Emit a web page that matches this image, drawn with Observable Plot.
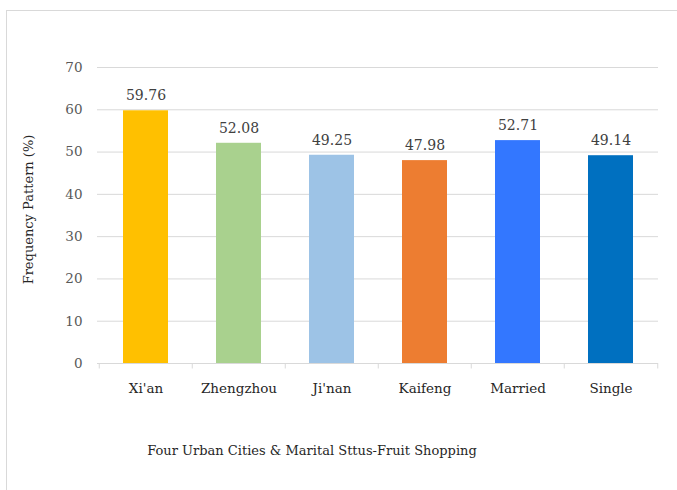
<!DOCTYPE html>
<html>
<head>
<meta charset="utf-8">
<script src="https://cdn.jsdelivr.net/npm/d3@7"></script>
<script src="https://cdn.jsdelivr.net/npm/@observablehq/plot@0.6"></script>
<style>
  html, body { margin: 0; padding: 0; background: #fff; }
  #wrap { position: relative; width: 677px; height: 490px; overflow: hidden; }
  #frame { position: absolute; left: 6px; top: 10px; width: 680px; height: 500px; border: 1px solid #d9d9d9; box-sizing: border-box; }
  #chart { position: absolute; left: 0; top: 0; }
  #caption { position: absolute; left: 0; width: 624px; top: 443px; text-align: center; font-family: 'DejaVu Serif', 'Liberation Serif', serif; font-size: 13px; color: #262626; }
</style>
</head>
<body>
<div id="wrap">
  <div id="frame"></div>
  <div id="chart"></div>
  <div id="caption">Four Urban Cities &amp; Marital Sttus-Fruit Shopping</div>
</div>
<script>
const categories = ["Xi'an", "Zhengzhou", "Ji'nan", "Kaifeng", "Married", "Single"];
const values = [59.76, 52.08, 49.25, 47.98, 52.71, 49.14];
const colors = ["#FFC000", "#A9D18E", "#9DC3E6", "#ED7D31", "#3377FF", "#0070C0"];
const yTicks = [0, 10, 20, 30, 40, 50, 60, 70];
const yLabel = "Frequency Pattern (%)";

const data = categories.map((c, i) => ({category: c, value: values[i], color: colors[i]}));

const W = 677, H = 490, mL = 97, mR = 19, mT = 67, mB = 127;
const step = (W - mL - mR) / categories.length;
const serif = "'DejaVu Serif', 'Liberation Serif', serif";

const chart = Plot.plot({
  width: W, height: H,
  marginLeft: mL, marginRight: mR, marginTop: mT, marginBottom: mB,
  style: {background: "transparent", fontFamily: serif},
  x: {domain: categories, padding: 0, label: null},
  y: {domain: [0, 70], label: null},
  marks: [
    Plot.gridY(yTicks, {stroke: "#d9d9d9", strokeOpacity: 1}),
    Plot.barY(data, {x: "category", y: "value", fill: "color", insetLeft: 24, insetRight: 24}),
    Plot.ruleY([0], {stroke: "#d9d9d9", strokeWidth: 1}),
    Plot.ruleX(categories, {x: d => d, y1: 0, y2: -1.3, dx: -step / 2, stroke: "#d9d9d9", clip: false}),
    Plot.ruleX([categories[categories.length - 1]], {x: d => d, y1: 0, y2: -1.3, dx: step / 2, stroke: "#d9d9d9", clip: false}),
    Plot.text(data, {x: "category", y: "value", text: d => d.value.toFixed(2), dy: -15, fill: "#404040", fontSize: 14, fontFamily: serif}),
    Plot.axisY(yTicks, {tickSize: 0, tickPadding: 15, label: null, fontSize: 13.5, fill: "#595959", fontFamily: serif}),
    Plot.axisX({tickSize: 0, tickPadding: 20, label: null, fontSize: 13.5, fill: "#262626", fontFamily: serif}),
    Plot.text([yLabel], {frameAnchor: "left", textAnchor: "middle", rotate: -90, dx: -69, dy: -6, fontSize: 13, fill: "#262626", fontFamily: serif})
  ]
});
document.getElementById("chart").appendChild(chart);
</script>
</body>
</html>
